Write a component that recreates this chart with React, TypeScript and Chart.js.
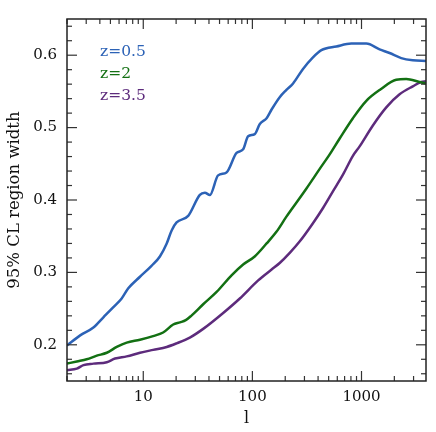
import React, { useEffect, useRef } from 'react';
import { Chart, registerables } from 'chart.js';

Chart.register(...registerables);

// Multipole l and 95% CL region width for each redshift
const ellBlue = [2.0, 2.64, 3.49, 4.31, 5.32, 6.34, 7.29, 9.33, 11.9, 14.2, 16.4, 18.2, 20.2, 25.8, 33.0, 36.7, 40.8, 48.5, 57.9, 71.6, 82.3, 91.4, 105, 117, 135, 150, 178, 205, 236, 291, 359, 429, 588, 807, 1107, 1465, 1808, 2312, 2951, 3900];
const widthBlue = [0.199, 0.213, 0.224, 0.238, 0.252, 0.264, 0.278, 0.294, 0.309, 0.322, 0.340, 0.358, 0.369, 0.378, 0.407, 0.410, 0.407, 0.434, 0.438, 0.465, 0.470, 0.488, 0.491, 0.505, 0.513, 0.525, 0.542, 0.552, 0.561, 0.581, 0.597, 0.607, 0.612, 0.616, 0.616, 0.608, 0.603, 0.596, 0.593, 0.592];

const ellGreen = [2.0, 2.46, 3.03, 3.75, 4.63, 5.71, 7.05, 9.33, 12.3, 15.2, 18.8, 21.7, 24.5, 27.5, 35.4, 47, 64.4, 82.3, 105, 135, 166, 205, 236, 313, 414, 511, 631, 834, 1107, 1500, 2080, 2570, 3404, 3900];
const widthGreen = [0.174, 0.177, 0.180, 0.185, 0.189, 0.197, 0.203, 0.207, 0.212, 0.217, 0.228, 0.231, 0.234, 0.240, 0.256, 0.273, 0.296, 0.311, 0.322, 0.340, 0.356, 0.377, 0.390, 0.416, 0.443, 0.463, 0.485, 0.513, 0.537, 0.553, 0.566, 0.567, 0.563, 0.561];

const ellPurple = [2.0, 2.46, 2.83, 3.49, 4.63, 5.51, 7.05, 9.33, 12.3, 16.4, 20.2, 26.7, 35.4, 54, 76.7, 113, 150, 178, 220, 272, 359, 444, 547, 676, 834, 961, 1271, 1687, 2234, 2951, 3524, 3900];
const widthPurple = [0.165, 0.167, 0.172, 0.174, 0.176, 0.181, 0.184, 0.189, 0.193, 0.197, 0.202, 0.210, 0.222, 0.244, 0.264, 0.289, 0.304, 0.313, 0.327, 0.343, 0.368, 0.389, 0.412, 0.435, 0.461, 0.474, 0.503, 0.528, 0.546, 0.557, 0.563, 0.564];

const seriesLabels = ['z=0.5', 'z=2', 'z=3.5'];
const seriesColors = ['#2c62b6', '#137013', '#5d2b7c'];

const xMajorTicks = [10, 100, 1000];
const xMinorTicks = [2, 3, 4, 5, 6, 7, 8, 9, 20, 30, 40, 50, 60, 70, 80, 90, 200, 300, 400, 500, 600, 700, 800, 900, 2000, 3000];
const yMajorTicks = [0.2, 0.3, 0.4, 0.5, 0.6];
const yMinorTicks = [0.16, 0.18, 0.22, 0.24, 0.26, 0.28, 0.32, 0.34, 0.36, 0.38, 0.42, 0.44, 0.46, 0.48, 0.52, 0.54, 0.56, 0.58, 0.62, 0.64];

const FONT = '"DejaVu Serif", serif';

const framePlugin = {
  id: 'frame',
  afterDraw(chart: any) {
    const { ctx, chartArea: a, scales } = chart;
    const xs = scales.x;
    const ys = scales.y;
    ctx.save();
    ctx.strokeStyle = '#333';
    ctx.lineWidth = 1.2;
    const tick = (x1: number, y1: number, x2: number, y2: number) => {
      ctx.beginPath();
      ctx.moveTo(x1, y1);
      ctx.lineTo(x2, y2);
      ctx.stroke();
    };
    const drawX = (vals: number[], len: number) => {
      for (const v of vals) {
        const px = xs.getPixelForValue(v);
        tick(px, a.bottom, px, a.bottom - len);
        tick(px, a.top, px, a.top + len);
      }
    };
    const drawY = (vals: number[], len: number) => {
      for (const v of vals) {
        const py = ys.getPixelForValue(v);
        tick(a.left, py, a.left + len, py);
        tick(a.right, py, a.right - len, py);
      }
    };
    drawX(xMajorTicks, 10);
    drawX(xMinorTicks, 5);
    drawY(yMajorTicks, 10);
    drawY(yMinorTicks, 5);
    ctx.strokeStyle = '#222';
    ctx.lineWidth = 1.5;
    ctx.strokeRect(a.left, a.top, a.right - a.left, a.bottom - a.top);

    ctx.font = '15.5px ' + FONT;
    ctx.textBaseline = 'middle';
    ctx.textAlign = 'left';
    seriesLabels.forEach((t, i) => {
      ctx.fillStyle = seriesColors[i];
      ctx.fillText(t, a.left + 33, a.top + 33 + i * 22);
    });
    ctx.restore();
  },
};

export default function App() {
  const ref = useRef<HTMLCanvasElement>(null);
  useEffect(() => {
    if (!ref.current) return;
    const mk = (xs: number[], ys: number[]) => xs.map((x, i) => ({ x, y: ys[i] }));
    const data = [mk(ellBlue, widthBlue), mk(ellGreen, widthGreen), mk(ellPurple, widthPurple)];
    const chart = new Chart(ref.current, {
      type: 'line',
      data: {
        datasets: data.map((d, i) => ({
          label: seriesLabels[i],
          data: d,
          borderColor: seriesColors[i],
          borderWidth: 2.5,
          pointRadius: 0,
          fill: false,
          cubicInterpolationMode: 'monotone' as const,
        })),
      },
      options: {
        animation: false,
        responsive: false,
        devicePixelRatio: 1,
        layout: { padding: { left: 0, right: 10, top: 9, bottom: 0 } },
        plugins: { legend: { display: false }, tooltip: { enabled: false } },
        scales: {
          x: {
            type: 'logarithmic',
            min: 2,
            max: 3900,
            grid: { display: false, drawTicks: false },
            border: { display: false },
            afterBuildTicks: (s: any) => {
              s.ticks = xMajorTicks.map((v) => ({ value: v }));
            },
            afterFit: (s: any) => {
              s.height = 51;
            },
            ticks: {
              autoSkip: false,
              maxRotation: 0,
              padding: 7,
              color: '#111',
              font: { family: FONT, size: 15 },
              callback: (v: any) => String(v),
            },
            title: {
              display: true,
              text: 'l',
              color: '#111',
              font: { family: FONT, size: 16 },
              padding: { top: 0, bottom: 4 },
            },
          },
          y: {
            type: 'linear',
            min: 0.15,
            max: 0.65,
            grid: { display: false, drawTicks: false },
            border: { display: false },
            afterBuildTicks: (s: any) => {
              s.ticks = yMajorTicks.map((v) => ({ value: v }));
            },
            afterFit: (s: any) => {
              s.width = 67;
            },
            ticks: {
              padding: 10,
              color: '#111',
              font: { family: FONT, size: 15 },
              callback: (v: any) => Number(v).toFixed(1),
            },
            title: {
              display: true,
              text: '95% CL region width',
              color: '#111',
              font: { family: FONT, size: 16.5 },
              padding: { top: 5, bottom: 0 },
            },
          },
        },
      },
      plugins: [framePlugin],
    } as any);
    return () => chart.destroy();
  }, []);
  return (
    <div style={{ position: 'absolute', left: 0, top: 0, width: 436, height: 432, background: '#fff' }}>
      <canvas ref={ref} width={436} height={432} />
    </div>
  );
}
